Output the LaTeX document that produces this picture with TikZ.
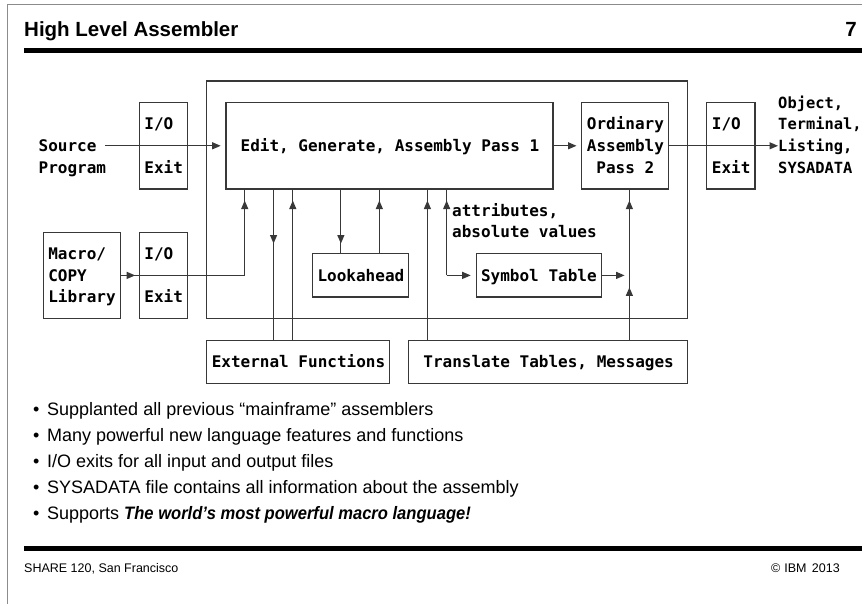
\documentclass[tikz,border=0pt]{standalone}
\usepackage{fontspec}
\setmainfont{Liberation Sans}
\newfontfamily\diagfont{DejaVu Sans Mono}
\usetikzlibrary{arrows.meta,decorations.markings,fit,calc}
\definecolor{lncol}{HTML}{383838}
\definecolor{framecol}{HTML}{8C8C8C}
\tikzset{
  hd/.tip={Triangle[length=8.5pt,width=7pt]},
  ln/.style={lncol, draw, line width=1.1pt},
  arr/.style={-{hd}, shorten >=#1},
  arr/.default=4.8pt,
  tipat/.style={postaction={decorate,decoration={markings,mark=at position #1 with {\arrow{hd}}}}},
  box/.style={draw=lncol, line width=1.1pt, inner sep=0pt},
  lbl/.style={font=\diagfont\bfseries\fontsize{16}{19}\selectfont, anchor=base west, inner sep=0pt, yshift=-5.8pt},
  outlbl/.style={lbl, font=\diagfont\bfseries\fontsize{15.4}{19}\selectfont},
  bullet/.style={font=\fontsize{18}{21}\selectfont, anchor=base west, inner sep=0pt},
  foot/.style={font=\fontsize{12.5}{15}\selectfont, inner sep=0pt},
  head/.style={font=\bfseries\fontsize{20.5}{24}\selectfont, inner sep=0pt},
}
\begin{document}
\begin{tikzpicture}[x=1pt,y=-1pt]
\useasboundingbox (0,0) rectangle (862,609);

% slide frame, heading and rules
\draw[framecol, line width=1pt] (7,604) -- (7,5) -- (862,5);
\node[head, anchor=base west] (title) at (24,36.5) {High Level Assembler};
\node[head, anchor=base east] (pageno) at (857,36.5) {7};
\draw[line width=5pt] (24,51) -- (862,51);
\draw[line width=5pt] (24,548) -- (862,548);
\node[foot, anchor=base west] (venue) at (24,572) {SHARE 120, San Francisco};
\node[foot, anchor=base east] (copy) at (840,572) {©\hspace{4pt}IBM\hspace{2pt} 2013};

% bullet list
\node[bullet] (b1) at (33,415.0) {\makebox[14pt][l]{\textbullet}Supplanted all previous “mainframe” assemblers};
\node[bullet] (b2) at (33,441.2) {\makebox[14pt][l]{\textbullet}Many powerful new language features and functions};
\node[bullet] (b3) at (33,467.4) {\makebox[14pt][l]{\textbullet}I/O exits for all input and output files};
\node[bullet] (b4) at (33,493.6) {\makebox[14pt][l]{\textbullet}SYSADATA file contains all information about the assembly};
\node[bullet] (b5) at (33,519.8) {\makebox[14pt][l]{\textbullet}Supports \scalebox{0.92}[1]{\textbf{\textit{The world's most powerful macro language!}}}};

% block diagram on a character grid: x = column, y = row
\begin{scope}[shift={(43.3pt,-81pt)}, x=9.617pt, y=-21.6pt]
  % boxes
  \node[box, fit={(17,0) (67,11)}] (hlasm) {};
  \node[box, fit={(19,1) (53,5)}] (edit) {};
  \node[box, fit={(56,1) (65,5)}] (ordin) {};
  \node[box, fit={(10,1) (15,5)}] (ioin) {};
  \node[box, fit={(69,1) (74,5)}] (ioout) {};
  \node[box, fit={(0,7) (8,11)}] (macro) {};
  \node[box, fit={(10,7) (15,11)}] (iolib) {};
  \node[box, fit={(28,8) (38,10)}] (lookbox) {};
  \node[box, fit={(45,8) (58,10)}] (symbox) {};
  \node[box, fit={(17,12) (36,14)}] (extbox) {};
  \node[box, fit={(38,12) (67,14)}] (transbox) {};

  % texts
  \node[lbl] (src1) at (-0.5,3) {Source};
  \node[lbl] (src2) at (-0.5,4) {Program};
  \node[lbl] (ioin1) at (10.5,2) {I/O};
  \node[lbl] (ioin2) at (10.5,4) {Exit};
  \node[lbl] (edittx) at (20.5,3) {Edit, Generate, Assembly Pass 1};
  \node[lbl] (ord1) at (56.5,2) {Ordinary};
  \node[lbl] (ord2) at (56.5,3) {Assembly};
  \node[lbl] (ord3) at (57.5,4) {Pass 2};
  \node[lbl] (ioout1) at (69.5,2) {I/O};
  \node[lbl] (ioout2) at (69.5,4) {Exit};
  \node[outlbl] (out1) at (76.4,1) {Object,};
  \node[outlbl] (out2) at (76.4,2) {Terminal,};
  \node[outlbl] (out3) at (76.4,3) {Listing,};
  \node[outlbl] (out4) at (76.4,4) {SYSADATA};
  \node[lbl] (mac1) at (0.5,8) {Macro/};
  \node[lbl] (mac2) at (0.5,9) {COPY};
  \node[lbl] (mac3) at (0.5,10) {Library};
  \node[lbl] (iolib1) at (10.5,8) {I/O};
  \node[lbl] (iolib2) at (10.5,10) {Exit};
  \node[lbl] (looktx) at (28.5,9) {Lookahead};
  \node[lbl] (attr1) at (42.5,6) {attributes,};
  \node[lbl] (attr2) at (42.5,7) {absolute values};
  \node[lbl] (symtx) at (45.5,9) {Symbol Table};
  \node[lbl] (exttx) at (17.5,13) {External Functions};
  \node[lbl] (transtx) at (39.5,13) {Translate Tables, Messages};

  % ports on the lower edges of the pass boxes
  \coordinate (p21) at ($(edit.south west)+(2,0)$);
  \coordinate (p24) at ($(edit.south west)+(5,0)$);
  \coordinate (p26) at ($(edit.south west)+(7,0)$);
  \coordinate (p31) at ($(edit.south west)+(12,0)$);
  \coordinate (p35) at ($(edit.south west)+(16,0)$);
  \coordinate (p40) at ($(edit.south west)+(21,0)$);
  \coordinate (p42) at ($(edit.south west)+(23,0)$);
  \coordinate (p61) at ($(ordin.south west)+(5,0)$);
  \coordinate (srcstart) at ($(ioin.west)+(-3.5,0)$);
  \coordinate (bend) at (p42 |- symbox.west);
  \coordinate (join) at (p61 |- symbox.east);

  % connectors
  \draw[ln, arr] (srcstart) -- (edit.west);
  \draw[ln, tipat=14.4pt, tipat=-11pt] (macro.east) -| (p21);
  \draw[ln, tipat=54pt] (p24) -- (p24 |- extbox.north);
  \draw[ln, tipat=-11pt] (p26 |- extbox.north) -- (p26);
  \draw[ln, tipat=54pt] (p31) -- (p31 |- lookbox.north);
  \draw[ln, tipat=-11pt] (p35 |- lookbox.north) -- (p35);
  \draw[ln, tipat=-11pt] (p40 |- transbox.north) -- (p40);
  \draw[ln, tipat=-11pt] (bend) -- (p42);
  \draw[ln, arr] (bend) -- (symbox.west);
  \draw[ln, arr] (symbox.east) -- (join);
  \draw[ln, tipat=-11pt] (join) -- (p61);
  \draw[ln, tipat=-12pt] (p61 |- transbox.north) -- (join);
  \draw[ln, arr] (edit.east) -- (ordin.west);
  \draw[ln, arr=0pt] (ordin.east) -- (ordin.east -| out3.west);
\end{scope}
\end{tikzpicture}
\end{document}
